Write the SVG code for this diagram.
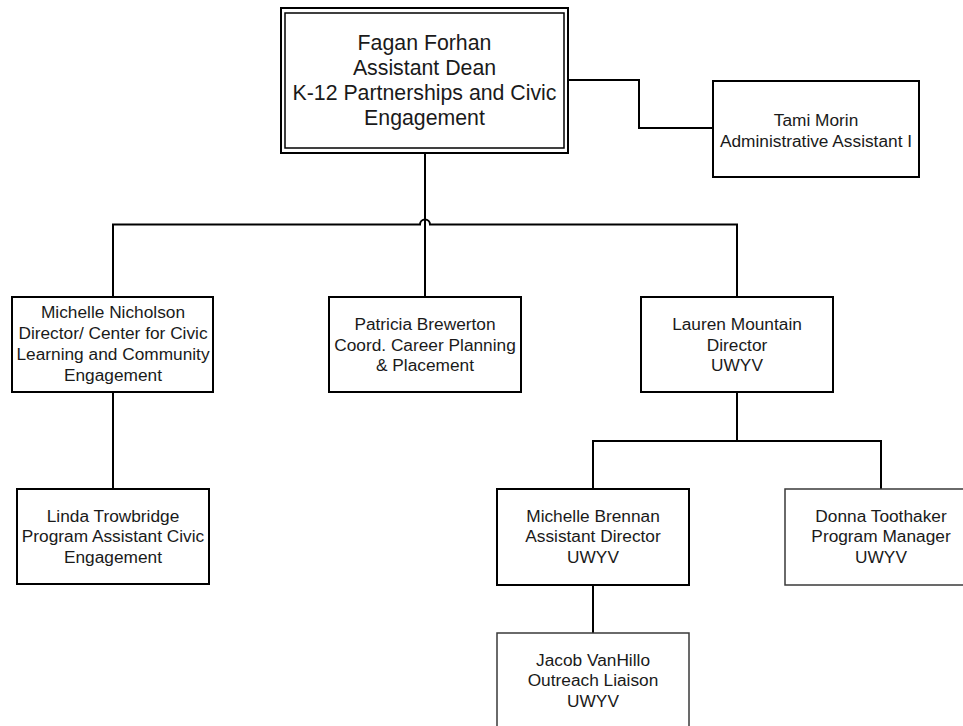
<svg xmlns="http://www.w3.org/2000/svg" width="963" height="726" viewBox="0 0 963 726">
<style>
.box{fill:#fff;stroke:#000;stroke-width:2}
.box2{fill:#fff;stroke:#3a3a3a;stroke-width:1.5}
.t{font-family:"Liberation Sans",Arial,sans-serif;font-size:17.3px;fill:#1a1a1a;text-anchor:middle}
.tb{font-family:"Liberation Sans",Arial,sans-serif;font-size:21.3px;fill:#1a1a1a;text-anchor:middle}
.c{fill:none;stroke:#000;stroke-width:2}
</style>
<rect width="963" height="726" fill="#fff"/>
<g id="connectors">
<path class="c" d="M568,80 H639 V128 H713"/>
<path class="c" d="M425,153 V297"/>
<path class="c" d="M113,297 V224.5 H420 A5,5 0 0 1 430,224.5 H737 V297"/>
<path class="c" d="M113,392 V489"/>
<path class="c" d="M737,392 V441"/>
<path class="c" d="M593,489 V441 H881 V489"/>
<path class="c" d="M593,585 V633"/>
</g>
<g id="fagan">
<rect class="box" x="281" y="8" width="287" height="145"/>
<rect fill="none" stroke="#000" stroke-width="1.5" x="285" y="13" width="279" height="135"/>
<text class="tb" x="424.5" y="50">Fagan Forhan</text>
<text class="tb" x="424.5" y="75">Assistant Dean</text>
<text class="tb" x="424.5" y="100">K-12 Partnerships and Civic</text>
<text class="tb" x="424.5" y="125">Engagement</text>
</g>
<g id="tami">
<rect class="box" x="713" y="81" width="206" height="96"/>
<text class="t" x="816" y="126">Tami Morin</text>
<text class="t" x="816" y="146.5">Administrative Assistant I</text>
</g>
<g id="nicholson">
<rect class="box" x="12" y="297" width="201" height="95"/>
<text class="t" x="113" y="318">Michelle Nicholson</text>
<text class="t" x="113" y="339">Director/ Center for Civic</text>
<text class="t" x="113" y="360">Learning and Community</text>
<text class="t" x="113" y="381">Engagement</text>
</g>
<g id="patricia">
<rect class="box" x="329" y="297" width="192" height="95"/>
<text class="t" x="425" y="329.5">Patricia Brewerton</text>
<text class="t" x="425" y="350.5">Coord. Career Planning</text>
<text class="t" x="425" y="371.3">&amp; Placement</text>
</g>
<g id="lauren">
<rect class="box" x="641" y="297" width="192" height="95"/>
<text class="t" x="737" y="329.5">Lauren Mountain</text>
<text class="t" x="737" y="350.5">Director</text>
<text class="t" x="737" y="371.3">UWYV</text>
</g>
<g id="linda">
<rect class="box" x="17" y="489" width="192" height="95"/>
<text class="t" x="113" y="521.5">Linda Trowbridge</text>
<text class="t" x="113" y="542.3">Program Assistant Civic</text>
<text class="t" x="113" y="563.1">Engagement</text>
</g>
<g id="brennan">
<rect class="box" x="497" y="489" width="192" height="96"/>
<text class="t" x="593" y="521.5">Michelle Brennan</text>
<text class="t" x="593" y="542.3">Assistant Director</text>
<text class="t" x="593" y="563.1">UWYV</text>
</g>
<g id="donna">
<rect class="box2" x="785" y="489" width="192" height="96"/>
<text class="t" x="881" y="521.5">Donna Toothaker</text>
<text class="t" x="881" y="542.3">Program Manager</text>
<text class="t" x="881" y="563.1">UWYV</text>
</g>
<g id="jacob">
<rect class="box2" x="497" y="633" width="192" height="96"/>
<text class="t" x="593" y="665.5">Jacob VanHillo</text>
<text class="t" x="593" y="686.3">Outreach Liaison</text>
<text class="t" x="593" y="707.1">UWYV</text>
</g>
</svg>
